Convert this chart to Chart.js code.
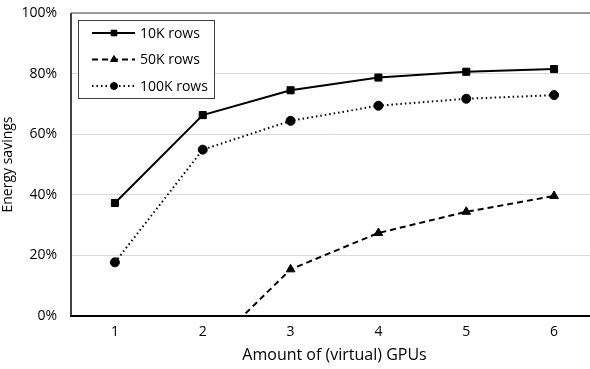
<!DOCTYPE html>
<html>
<head>
<meta charset="utf-8">
<script src="https://cdn.jsdelivr.net/npm/chart.js@4"></script>
<style>
  html, body { margin: 0; padding: 0; background: #fff; overflow: hidden; }
  #wrap { width: 590px; height: 369px; overflow: hidden; }
</style>
</head>
<body>
<div id="wrap"><canvas id="chart" width="604" height="369"></canvas></div>
<script>
// data
const gpus = ['1', '2', '3', '4', '5', '6'];
const rows10k = [37.3, 66.3, 74.5, 78.7, 80.6, 81.5];
const rows50k = [null, -13, 15.4, 27.4, 34.4, 39.6];
const rows100k = [17.7, 54.9, 64.4, 69.4, 71.7, 72.9];
const seriesNames = ['10K rows', '50K rows', '100K rows'];

const FONT = "'Open Sans', 'Noto Sans', sans-serif";

// legend box in the top left corner, drawn from the dataset styles
const boxLegend = {
    id: 'boxLegend',
    afterDraw(chart) {
        const ctx = chart.ctx;
        const x0 = 78, y0 = 20, w = 136, h = 78;
        ctx.save();
        ctx.fillStyle = '#fff';
        ctx.fillRect(x0, y0, w, h);
        ctx.strokeStyle = '#404040';
        ctx.lineWidth = 1;
        ctx.strokeRect(x0 + 0.5, y0 + 0.5, w, h);
        chart.data.datasets.forEach(function (ds, i) {
            const y = 33 + i * 26.5;
            ctx.strokeStyle = '#000';
            ctx.lineWidth = ds.borderWidth;
            ctx.setLineDash(ds.borderDash || []);
            ctx.beginPath();
            ctx.moveTo(92, y);
            ctx.lineTo(135, y);
            ctx.stroke();
            ctx.setLineDash([]);
            ctx.fillStyle = '#000';
            ctx.lineWidth = 1;
            Chart.helpers.drawPoint(ctx, {
                pointStyle: ds.pointStyle,
                radius: ds.pointRadius - 1,
                borderWidth: 1,
                rotation: 0
            }, 114, y);
            ctx.fillStyle = '#000';
            ctx.font = '14px ' + FONT;
            ctx.textBaseline = 'middle';
            ctx.textAlign = 'left';
            ctx.fillText(ds.label, 140, y + 1);
        });
        ctx.restore();
    }
};

// plot frame: grey top/left edges, black baseline
const frame = {
    id: 'frame',
    afterDatasetsDraw(chart) {
        const a = chart.chartArea, ctx = chart.ctx;
        ctx.save();
        ctx.strokeStyle = '#7f7f7f';
        ctx.lineWidth = 1.5;
        ctx.beginPath();
        ctx.moveTo(a.left, a.top);
        ctx.lineTo(a.right, a.top);
        ctx.stroke();
        ctx.strokeStyle = '#404040';
        ctx.lineWidth = 2;
        ctx.beginPath();
        ctx.moveTo(a.left, a.top);
        ctx.lineTo(a.left, a.bottom);
        ctx.stroke();
        ctx.strokeStyle = '#000';
        ctx.beginPath();
        ctx.moveTo(a.left - 1, a.bottom);
        ctx.lineTo(a.right, a.bottom);
        ctx.stroke();
        ctx.restore();
    }
};

new Chart(document.getElementById('chart'), {
    type: 'line',
    data: {
        labels: gpus,
        datasets: [
            {
                label: seriesNames[0],
                data: rows10k,
                borderColor: '#000',
                backgroundColor: '#000',
                borderWidth: 2,
                pointStyle: 'rect',
                pointRadius: 5,
                pointBorderWidth: 1
            },
            {
                label: seriesNames[1],
                data: rows50k,
                borderColor: '#000',
                backgroundColor: '#000',
                borderWidth: 2,
                borderDash: [6, 4],
                pointStyle: 'triangle',
                pointRadius: 5,
                pointBorderWidth: 1
            },
            {
                label: seriesNames[2],
                data: rows100k,
                borderColor: '#000',
                backgroundColor: '#000',
                borderWidth: 2,
                borderDash: [1.5, 3],
                pointStyle: 'circle',
                pointRadius: 4.5,
                pointBorderWidth: 1
            }
        ]
    },
    options: {
        responsive: false,
        animation: false,
        layout: { padding: { top: 13, right: 0, left: 0, bottom: 0 } },
        plugins: {
            legend: { display: false },
            tooltip: { enabled: false }
        },
        scales: {
            x: {
                offset: true,
                grid: { display: false, drawTicks: false },
                border: { display: false },
                ticks: { color: '#000', font: { family: FONT, size: 14 }, padding: 8 },
                title: {
                    display: true,
                    text: 'Amount of (virtual) GPUs',
                    color: '#000',
                    font: { family: FONT, size: 16 },
                    padding: { top: 4 }
                },
                afterFit(scale) {
                    scale.height = 53;
                    scale.paddingLeft = 0;
                    scale.paddingRight = 0;
                }
            },
            y: {
                min: 0,
                max: 100,
                ticks: {
                    stepSize: 20,
                    color: '#000',
                    font: { family: FONT, size: 14 },
                    padding: 14,
                    callback: v => v + '%'
                },
                grid: { color: '#d9d9d9', lineWidth: 1, drawTicks: false },
                border: { display: false },
                title: {
                    display: true,
                    text: 'Energy savings',
                    color: '#000',
                    font: { family: FONT, size: 14 },
                    padding: 0
                },
                afterFit(scale) {
                    scale.width = 71;
                    scale.paddingTop = 0;
                    scale.paddingBottom = 0;
                }
            }
        }
    },
    plugins: [frame, boxLegend]
});
</script>
</body>
</html>
